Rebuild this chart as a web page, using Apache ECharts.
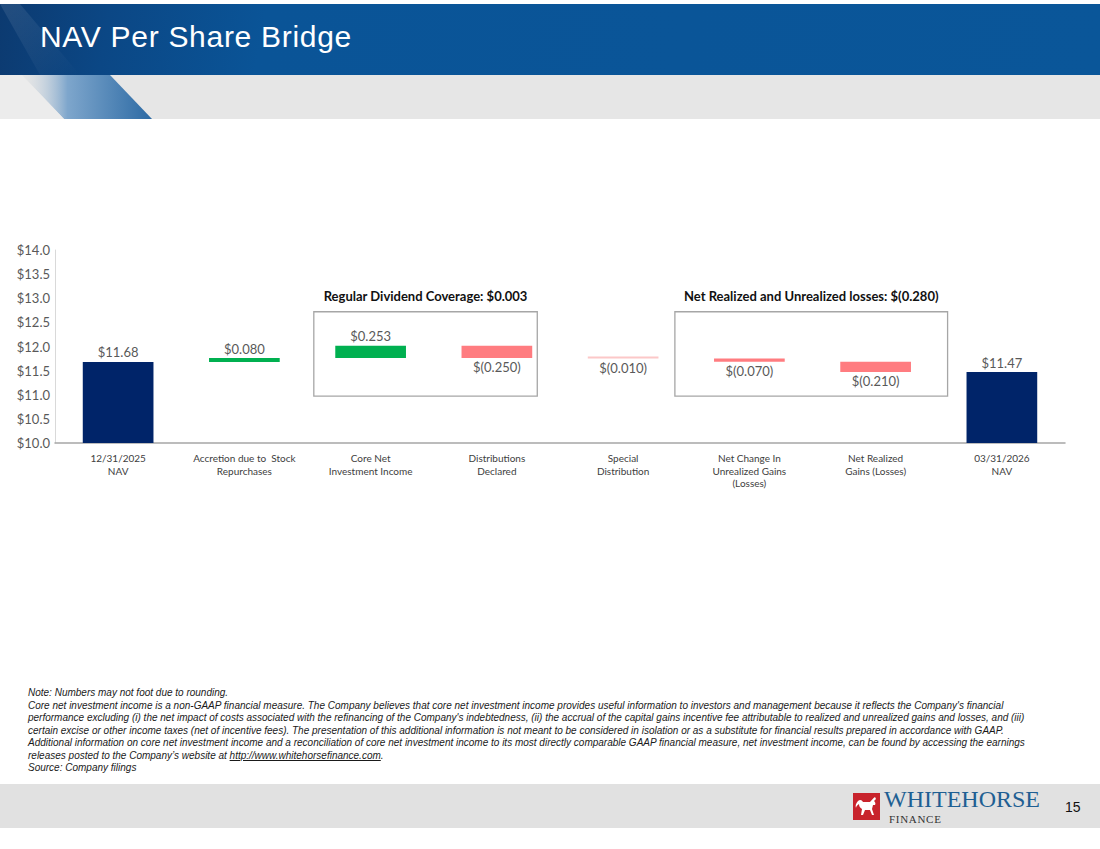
<!DOCTYPE html>
<html>
<head>
<meta charset="utf-8">
<script src="https://cdn.jsdelivr.net/npm/echarts@6/dist/echarts.min.js"></script>
<style>
  html, body { margin:0; padding:0; background:#fff; }
  body { width:1100px; height:849px; position:relative; overflow:hidden; font-family:"Liberation Sans", Arial, sans-serif; }
  #hdr { position:absolute; left:0; top:4px; width:1100px; height:71px;
         background:linear-gradient(100deg, #0c3a70 0%, #0b4785 10%, #0a5497 24%, #0a5699 100%); }
  #hdrTitle { position:absolute; left:40px; top:20px; color:#fff; font-size:30px; letter-spacing:0.7px; line-height:34px; font-family:"Liberation Sans", Arial, sans-serif; white-space:nowrap; }
  #band { position:absolute; left:0; top:75px; width:1100px; height:44px; background:#e6e6e6; }
  #chart { position:absolute; left:0; top:120px; width:1100px; height:560px; }
  #notes { position:absolute; left:28px; top:687px; width:1065px; font-size:10px; line-height:12.5px; font-style:italic; color:#1a1a1a; font-family:"Liberation Sans", Arial, sans-serif; white-space:nowrap; }
  #notes a { color:#1a1a1a; text-decoration:underline; }
  #footer { position:absolute; left:0; top:784px; width:1100px; height:44px; background:#e1e1e1; }
  #pg { position:absolute; left:1065px; top:799px; font-size:14px; line-height:16px; color:#111; font-family:"Liberation Sans", Arial, sans-serif; }
  #logoBox { position:absolute; left:853px; top:793px; width:27px; height:27px; background:#c8232c; }
  #logoW { position:absolute; left:884px; top:791px; font-family:"Liberation Serif","Times New Roman",serif; font-size:24px; color:#1f5f93; line-height:16px; height:16px; white-space:nowrap; }
  #logoF { position:absolute; left:889px; top:815px; font-family:"Liberation Serif","Times New Roman",serif; font-size:11px; color:#333; line-height:8px; height:8px; letter-spacing:0.7px; white-space:nowrap; }
</style>
</head>
<body>
<div id="hdr"></div>
<div id="band"></div>
<svg style="position:absolute;left:0;top:0" width="200" height="120">
  <defs>
    <linearGradient id="wg" x1="0" y1="0" x2="1" y2="0">
      <stop offset="0" stop-color="#e6e6e6" stop-opacity="0.2"/>
      <stop offset="0.35" stop-color="#7ea6cc"/>
      <stop offset="1" stop-color="#2c6aa4"/>
    </linearGradient>
    <linearGradient id="hg" x1="0" y1="0" x2="1" y2="1">
      <stop offset="0" stop-color="#ffffff" stop-opacity="0.10"/>
      <stop offset="1" stop-color="#ffffff" stop-opacity="0"/>
    </linearGradient>
  </defs>
  <polygon points="22,75 110,75 152,119 64,119" fill="url(#wg)"/>
  <polygon points="0,75 22,75 64,119 0,119" fill="#ececec"/>
  <polygon points="0,4 20,4 80,75 40,75" fill="url(#hg)"/>
</svg>
<div id="hdrTitle">NAV Per Share Bridge</div>

<div id="chart"></div>

<div id="notes">
Note: Numbers may not foot due to rounding.<br>
Core net investment income is a non-GAAP financial measure. The Company believes that core net investment income provides useful information to investors and management because it reflects the Company's financial<br>
performance excluding (i) the net impact of costs associated with the refinancing of the Company's indebtedness, (ii) the accrual of the capital gains incentive fee attributable to realized and unrealized gains and losses, and (iii)<br>
certain excise or other income taxes (net of incentive fees). The presentation of this additional information is not meant to be considered in isolation or as a substitute for financial results prepared in accordance with GAAP.<br>
Additional information on core net investment income and a reconciliation of core net investment income to its most directly comparable GAAP financial measure, net investment income, can be found by accessing the earnings<br>
releases posted to the Company’s website at <a>http://www.whitehorsefinance.com</a>.<br>
Source: Company filings
</div>

<div id="footer"></div>
<div id="logoBox">
  <svg width="27" height="27" viewBox="0 0 27 27">
    <path d="M5 8 C7 6 9 7 10 9 L17 9 C19 7 20 5 22 4 L23 6 L21 8 C22 9 23 10 22 12 L20 12 L19 16 L21 22 L19 22 L17 17 L12 17 L10 22 L8 22 L9 16 C7 15 6 13 6 11 C4 12 3 14 3 15 C2 13 3 10 5 8 Z" fill="#fff"/>
  </svg>
</div>
<div id="logoW">WHITEHORSE</div>
<div id="logoF">FINANCE</div>
<div id="pg">15</div>

<script>
// ---- data ----
const categories = [
  '12/31/2025\nNAV',
  'Accretion due to  Stock\nRepurchases',
  'Core Net\nInvestment Income',
  'Distributions\nDeclared',
  'Special\nDistribution',
  'Net Change In\nUnrealized Gains\n(Losses)',
  'Net Realized\nGains (Losses)',
  '03/31/2026\nNAV'
];
const deltas = [11.68, 0.080, 0.253, -0.250, -0.010, -0.070, -0.210, 11.47];
const kinds = ['total', 'up', 'up', 'down', 'special', 'down', 'down', 'total'];
const valueLabels = ['$11.68', '$0.080', '$0.253', '$(0.250)', '$(0.010)', '$(0.070)', '$(0.210)', '$11.47'];
const yMin = 10, yMax = 14, yStep = 0.5;
const groupTitles = ['Regular Dividend Coverage: $0.003', 'Net Realized and Unrealized losses: $(0.280)'];
const groupFrom = [2, 5];
const groupTo = [3, 6];

// ---- styles ----
const colors = { total: '#002469', up: '#00b050', down: '#ff7c80', special: '#fcc8c8' };
const labelFont = 'Lato, "Noto Sans", sans-serif';

// waterfall bases
const bases = [], heights = [];
let running = 0;
deltas.forEach((d, i) => {
  if (kinds[i] === 'total') { bases.push(0); heights.push(d); running = d; }
  else if (d >= 0) { bases.push(running); heights.push(d); running += d; }
  else { running += d; bases.push(running); heights.push(-d); }
});

const chart = echarts.init(document.getElementById('chart'), null, { renderer: 'svg' });
const option = {
  animation: false,
  grid: { left: 55, right: 35, top: 130, bottom: 237, containLabel: false },
  xAxis: {
    type: 'category',
    data: categories,
    axisLine: { lineStyle: { color: '#a6a6a6', width: 1.5 } },
    axisTick: { show: false },
    axisLabel: { interval: 0, color: '#404040', fontSize: 10, lineHeight: 12.5, margin: 9, fontFamily: labelFont }
  },
  yAxis: {
    type: 'value', min: yMin, max: yMax, interval: yStep,
    splitLine: { show: false },
    axisLine: { show: true, lineStyle: { color: '#d9d9d9', width: 1 } },
    axisTick: { show: false },
    axisLabel: { color: '#595959', fontSize: 13, margin: 5, fontFamily: labelFont,
                 formatter: v => '$' + v.toFixed(1) }
  },
  series: [
    { type: 'bar', stack: 'w', data: bases, itemStyle: { color: 'transparent' }, barWidth: '56%', silent: true },
    {
      type: 'bar', stack: 'w', barWidth: '56%', barMinHeight: 2,
      data: heights.map((h, i) => ({
        value: h,
        itemStyle: { color: colors[kinds[i]] },
        label: {
          show: true,
          position: (deltas[i] < 0) ? 'bottom' : 'top',
          distance: 3,
          formatter: valueLabels[i],
          color: '#595959', fontSize: 13, fontFamily: labelFont
        }
      }))
    }
  ]
};
chart.setOption(option);

// group boxes, positioned through the axes
function drawBoxes() {
  const c = i => chart.convertToPixel({ gridIndex: 0 }, [i, yMin])[0];
  const band = c(1) - c(0);
  const yTop = chart.convertToPixel({ gridIndex: 0 }, [0, 12.72])[1];
  const yBot = chart.convertToPixel({ gridIndex: 0 }, [0, 10.97])[1];
  const insetL = [0.45, 0.59], insetR = [0.32, 0.57];
  const els = [];
  groupTitles.forEach((t, k) => {
    const x0 = c(groupFrom[k]) - insetL[k] * band;
    const x1 = c(groupTo[k]) + insetR[k] * band;
    els.push({ type: 'rect', shape: { x: x0, y: yTop, width: x1 - x0, height: yBot - yTop },
               style: { fill: 'none', stroke: '#a6a6a6', lineWidth: 1.3 }, z: 10 });
    els.push({ type: 'text', x: (x0 + x1) / 2, y: yTop - 16,
               style: { text: t, fill: '#111', font: 'bold 13px ' + labelFont, textAlign: 'center', textVerticalAlign: 'middle' }, z: 10 });
  });
  chart.setOption({ graphic: els });
}
drawBoxes();
</script>
</body>
</html>
